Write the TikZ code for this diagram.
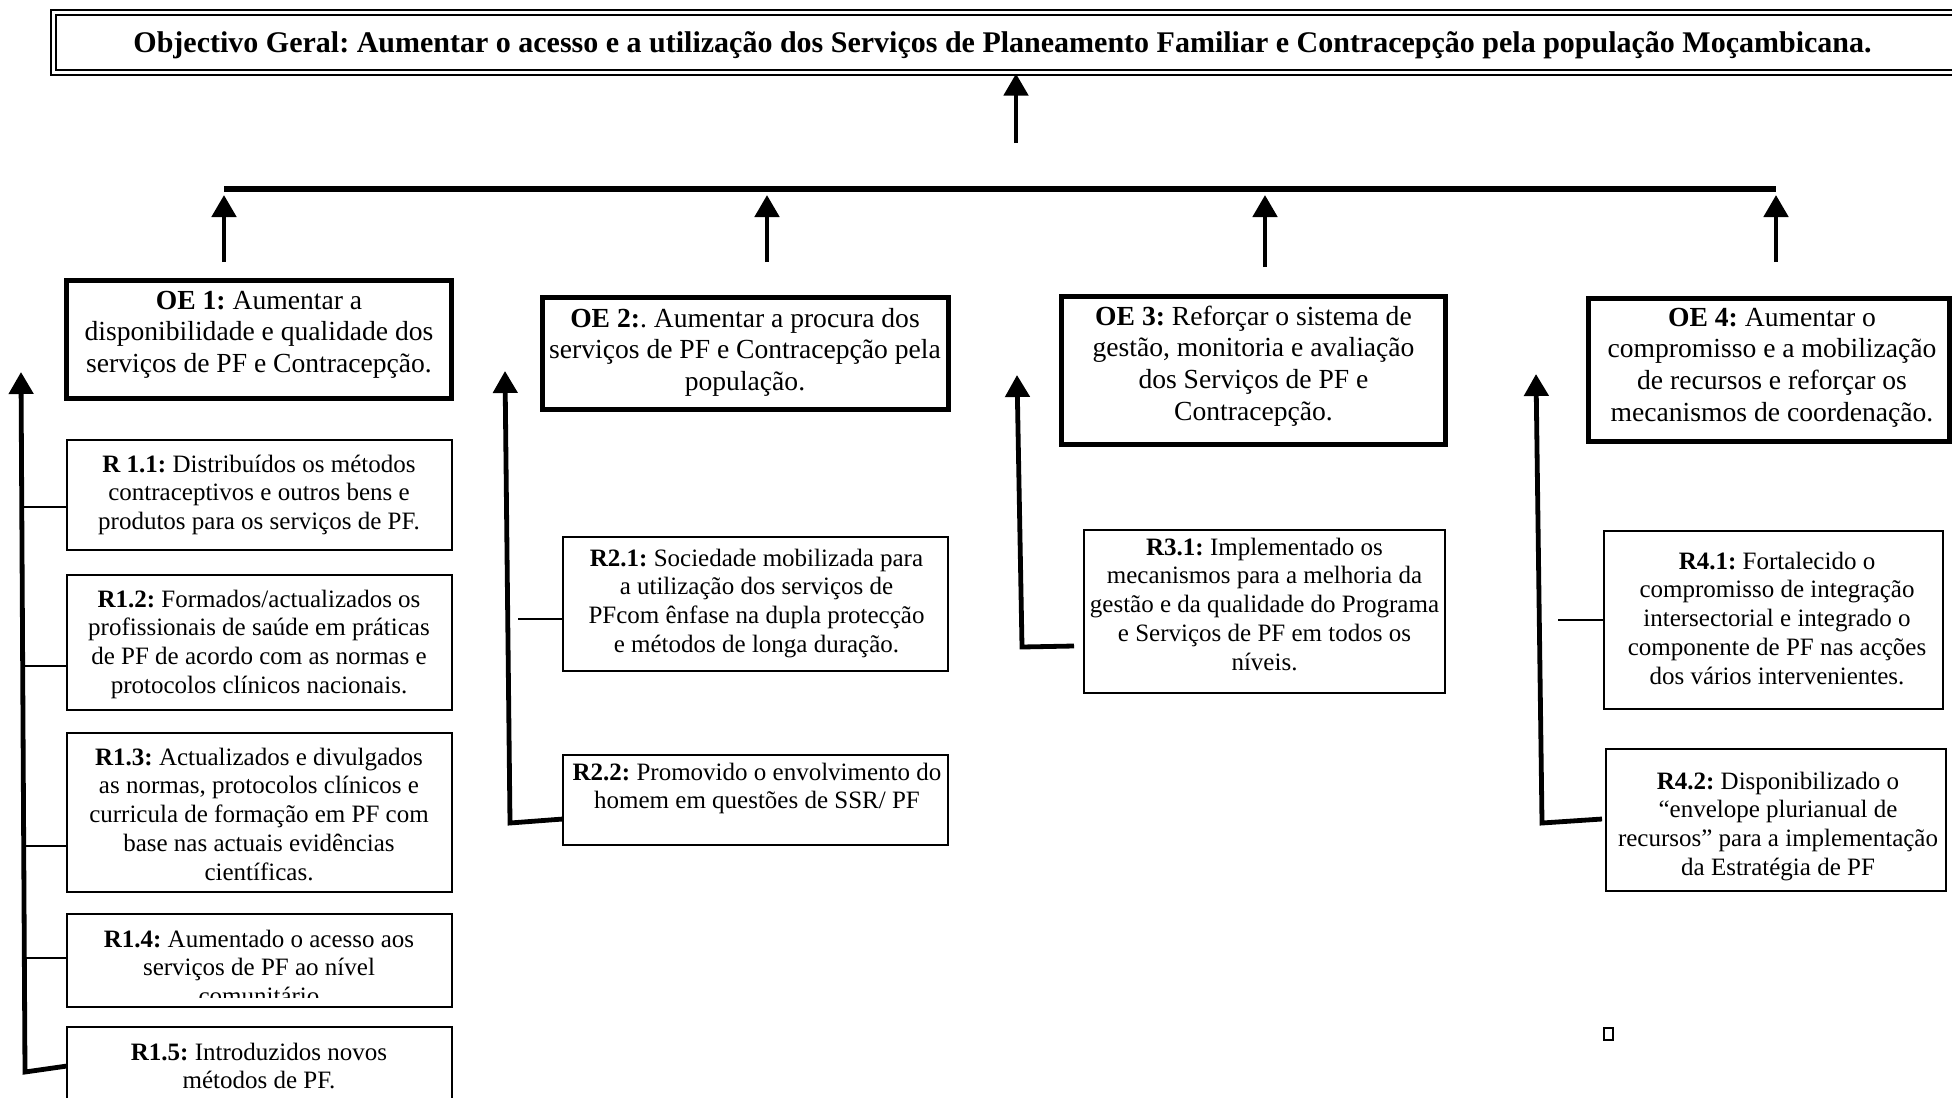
\documentclass[tikz,border=0pt]{standalone}
\usepackage{fontspec}
\setmainfont{Liberation Serif}
\usetikzlibrary{arrows.meta}
\begin{document}
\begin{tikzpicture}[x=0.5pt,y=-0.5pt,
  oebox/.style={draw, line width=2.5pt, inner sep=0pt},
  rbox/.style={draw, line width=1pt, inner sep=0pt},
  oetext/.style={inner sep=0pt, anchor=base, align=center, font=\frenchspacing\fontsize{13.8}{15.9}\selectfont},
  rtext/.style={inner sep=0pt, anchor=base, align=center, font=\frenchspacing\fontsize{12.5}{14.4}\selectfont},
  bigarrow/.style={line width=2.4pt, -{Triangle[length=11pt,width=12pt]}},
  thinlink/.style={line width=0.7pt},
]
\useasboundingbox (0,0) rectangle (1952,1097);
\clip (0,0) rectangle (1952,1097);

% overall goal
\node[draw, line width=1.2pt, double, double distance=1.2pt, inner sep=0pt,
      minimum width=951.25pt, minimum height=29.85pt] (goal) at (1004.75,42.55) {};
\node[inner sep=0pt, anchor=base, font=\frenchspacing\bfseries\fontsize{15}{17}\selectfont] (goalt) at (1002.5,52.5)
  {Objectivo Geral: Aumentar o acesso e a utilização dos Serviços de Planeamento Familiar e Contracepção pela população Moçambicana.};

% specific objective boxes
\node[oebox, minimum width=192.5pt, minimum height=59pt] (oe1) at (259,339.5) {};
\node[oebox, minimum width=203pt, minimum height=56pt] (oe2) at (745,353) {};
\node[oebox, minimum width=192.25pt, minimum height=73.75pt] (oe3) at (1253.25,370.25) {};
\node[oebox, minimum width=180.5pt, minimum height=71.5pt] (oe4) at (1768.5,369.5) {};

% (base anchor = baseline of the last line)
\node[oetext] (oe1t) at (259,372.6) {\textbf{OE 1:} Aumentar a\\disponibilidade e qualidade dos\\serviços de PF e Contracepção.};
\node[oetext] (oe2t) at (745,390.6) {\textbf{OE 2:}. Aumentar a procura dos\\serviços de PF e Contracepção pela\\população.};
\node[oetext] (oe3t) at (1253.5,420.4) {\textbf{OE 3:} Reforçar o sistema de\\gestão, monitoria e avaliação\\dos Serviços de PF e\\Contracepção.};
\node[oetext] (oe4t) at (1772,421.4) {\textbf{OE 4:} Aumentar o\\compromisso e a mobilização\\de recursos e reforçar os\\mecanismos de coordenação.};

% result boxes
\node[rbox, minimum width=192.25pt, minimum height=54.75pt] (r11) at (259.25,494.75) {};
\node[rbox, minimum width=192.25pt, minimum height=67.75pt] (r12) at (259.25,642.25) {};
\node[rbox, minimum width=192.25pt, minimum height=79.1pt] (r13) at (259.25,812.4) {};
\node[rbox, minimum width=192.25pt, minimum height=46.1pt] (r14) at (259.25,960.4) {};
\node[rbox, minimum width=192.25pt, minimum height=56.4pt] (r15) at (259.25,1083.6) {};
\node[rbox, minimum width=192.5pt, minimum height=67pt] (r21) at (755.5,604) {};
\node[rbox, minimum width=192.5pt, minimum height=45pt] (r22) at (755.5,800) {};
\node[rbox, minimum width=180.8pt, minimum height=81.65pt] (r31) at (1264.5,611.35) {};
\node[rbox, minimum width=169.55pt, minimum height=89pt] (r41) at (1773.75,620) {};
\node[rbox, minimum width=169.6pt, minimum height=71pt] (r42) at (1775.9,819.5) {};

\node[rtext] (r11t) at (259,529.6) {\textbf{R 1.1:} Distribuídos os métodos\\contraceptivos e outros bens e\\produtos para os serviços de PF.};
\node[rtext] (r12t) at (259,693.4) {\textbf{R1.2:} Formados/actualizados os\\profissionais de saúde em práticas\\de PF de acordo com as normas e\\protocolos clínicos nacionais.};
\node[rtext] (r13t) at (259,880.2) {\textbf{R1.3:} Actualizados e divulgados\\as normas, protocolos clínicos e\\curricula de formação em PF com\\base nas actuais evidências\\científicas.};
\begin{scope}
\clip (67,915) rectangle (451.5,997);
\node[rtext] (r14t) at (259,1004.6) {\textbf{R1.4:} Aumentado o acesso aos\\serviços de PF ao nível\\comunitário};
\end{scope}
\node[rtext] (r15t) at (259,1088.8) {\textbf{R1.5:} Introduzidos novos\\métodos de PF.};
\node[rtext] (r21t) at (756.5,652.4) {\textbf{R2.1:} Sociedade mobilizada para\\a utilização dos serviços de\\PFcom ênfase na dupla protecção\\e métodos de longa duração.};
\node[rtext] (r22t) at (757,808.8) {\textbf{R2.2:} Promovido o envolvimento do\\homem em questões de SSR/ PF};
\node[rtext] (r31t) at (1264.5,670.2) {\textbf{R3.1:} Implementado os\\mecanismos para a melhoria da\\gestão e da qualidade do Programa\\e Serviços de PF em todos os\\níveis.};
\node[rtext] (r41t) at (1777,684.2) {\textbf{R4.1:} Fortalecido o\\compromisso de integração\\intersectorial e integrado o\\componente de PF nas acções\\dos vários intervenientes.};
\node[rtext] (r42t) at (1778,875.4) {\textbf{R4.2:} Disponibilizado o\\“envelope plurianual de\\recursos” para a implementação\\da Estratégia de PF};

% small square
\node[draw, line width=1pt, inner sep=0pt, minimum width=4.5pt, minimum height=6pt] (sq) at (1608,1033.5) {};

% connectors to the goal
\coordinate (m) at (1016,143);
\draw[bigarrow] (m) -- (m |- goal.south);
\coordinate (bl) at (224,189);
\coordinate (br) at (1776,189);
\draw[line width=3pt] (bl) -- (br);
\coordinate (u1) at (224,262); \coordinate (v1) at (224,195);
\coordinate (u2) at (767,262); \coordinate (v2) at (767,195);
\coordinate (u3) at (1265,267); \coordinate (v3) at (1265,195);
\coordinate (u4) at (1776,262); \coordinate (v4) at (1776,195);
\draw[bigarrow] (u1) -- (v1);
\draw[bigarrow] (u2) -- (v2);
\draw[bigarrow] (u3) -- (v3);
\draw[bigarrow] (u4) -- (v4);

% column arrows
\coordinate (e1) at (67,1066); \coordinate (b1) at (25,1072); \coordinate (t1) at (21,372);
\coordinate (e2) at (563,819); \coordinate (b2) at (510,823); \coordinate (t2) at (505,371);
\coordinate (e3) at (1074,646); \coordinate (b3) at (1022,647); \coordinate (t3) at (1017,375);
\coordinate (e4) at (1602,819); \coordinate (b4) at (1542,823); \coordinate (t4) at (1536,374);
\draw[bigarrow] (e1) -- (b1) -- (t1);
\draw[bigarrow] (e2) -- (b2) -- (t2);
\draw[bigarrow] (e3) -- (b3) -- (t3);
\draw[bigarrow] (e4) -- (b4) -- (t4);

% thin links
\coordinate (k11) at (22,507);
\coordinate (k12) at (22,666);
\coordinate (k13) at (22,846);
\coordinate (k14) at (22,958);
\coordinate (k21) at (518,619);
\coordinate (k41) at (1558,620);
\draw[thinlink] (k11) -- (r11.west |- k11);
\draw[thinlink] (k12) -- (r12.west |- k12);
\draw[thinlink] (k13) -- (r13.west |- k13);
\draw[thinlink] (k14) -- (r14.west |- k14);
\draw[thinlink] (k21) -- (r21.west |- k21);
\draw[thinlink] (k41) -- (r41.west |- k41);
\end{tikzpicture}
\end{document}
